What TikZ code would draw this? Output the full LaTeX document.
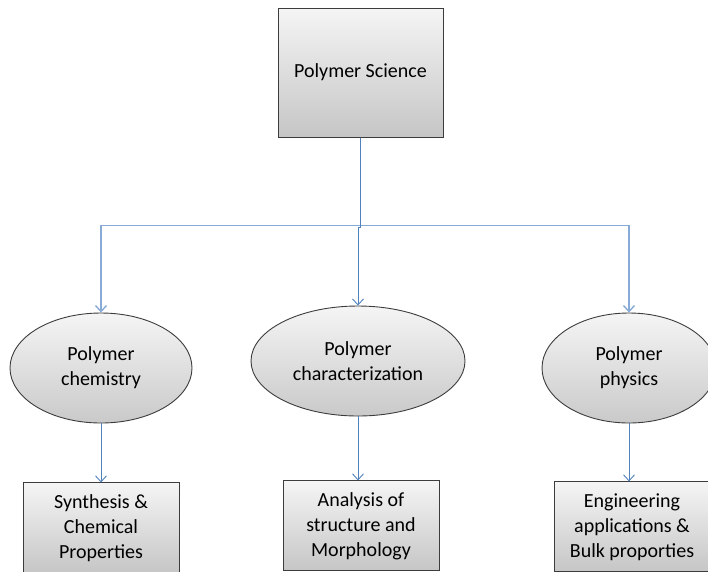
\documentclass[tikz,border=0pt]{standalone}
\usepackage{fontspec}
\setmainfont{Carlito}
\usetikzlibrary{positioning,shapes.geometric,arrows.meta}
\definecolor{linkblue}{RGB}{79,129,189}
\definecolor{buslight}{RGB}{135,170,215}
\definecolor{boxedge}{RGB}{60,60,60}

\begin{document}
\begin{tikzpicture}[x=1pt,y=1pt,node distance=59pt,
        every node/.style={font=\fontsize{20}{25}\selectfont, align=center},
        box/.style={draw=boxedge, line width=1pt, top color=gray!8, bottom color=gray!45, inner sep=0pt},
        oval/.style={ellipse, draw=boxedge, line width=0.9pt, top color=gray!8, bottom color=gray!42, inner sep=0pt, minimum height=110pt},
        link/.style={draw=linkblue, line width=0.9pt, -{Straight Barb[length=6pt,width=11pt]}},
        bus/.style={draw=buslight, line width=1.4pt, -{Straight Barb[length=6pt,width=11pt]}}]
        \useasboundingbox (0,0) rectangle (708,-571);

        \node (science) [box, minimum width=165pt, minimum height=129pt] at (360.5,-72.5) {Polymer Science};
        \node (chemistry) [oval, minimum width=182pt] at (101,-368) {Polymer\\chemistry};
        \node (characterization) [oval, minimum width=214pt] at (358,-361) {Polymer\\characterization};
        \node (physics) [oval, minimum width=174pt] at (629,-368) {Polymer\\physics};
        \node (synthesis) [box, minimum width=156pt, minimum height=90pt, below=59pt of chemistry] {Synthesis \&\\Chemical\\Properties};
        \node (analysis) [box, minimum width=156pt, minimum height=90pt, below=64pt of characterization, xshift=3pt] {Analysis of\\structure and\\Morphology};
        \node (engineering) [box, minimum width=156pt, minimum height=90pt, below=58pt of physics, xshift=3pt] {Engineering\\applications \&\\Bulk proporties};

        \draw[bus] (science.south) -- ++(0,-88) -| (chemistry.north);
        \draw[bus] (science.south) -- ++(0,-88) -| (physics.north);
        \draw[link] (science.south) |- ([yshift=78pt]characterization.north) -- (characterization.north);
        \draw[link] (chemistry) -- (synthesis);
        \draw[link] (characterization.south) -- (characterization.south |- analysis.north);
        \draw[link] (physics.south) -- (physics.south |- engineering.north);
    \end{tikzpicture}
\end{document}
